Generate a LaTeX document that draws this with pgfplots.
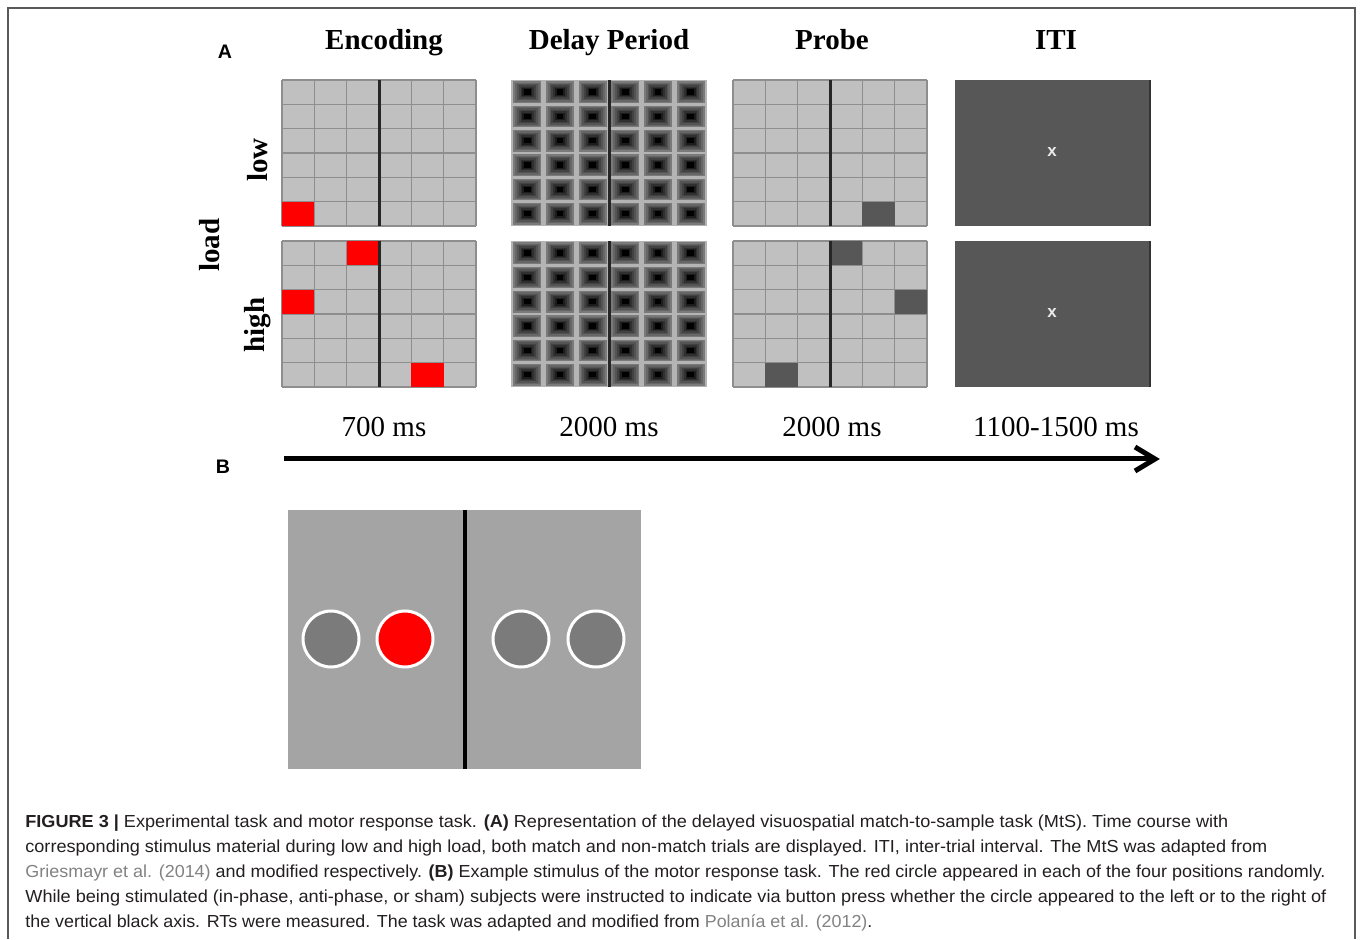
\documentclass[border=0pt]{standalone}
\usepackage{pgfplots}
\pgfplotsset{compat=1.18}
\usepackage{pgfplotstable}
\usepackage{graphicx}
\usepackage{fontspec}
\setmainfont{Liberation Serif}
\newfontfamily\sans{Liberation Sans}

\definecolor{cellgray}{HTML}{C0C0C0}
\definecolor{gridline}{HTML}{8E8E8E}
\definecolor{delaybg}{HTML}{B4B4B4}
\definecolor{itigray}{HTML}{575757}
\definecolor{panelb}{HTML}{A4A4A4}
\definecolor{circgray}{HTML}{7B7B7B}
\definecolor{captxt}{HTML}{231F20}
\definecolor{linkgray}{HTML}{828282}
\definecolor{framegray}{HTML}{5A5A5A}

% 1 px of the reference = 0.5pt
\newcommand{\rect}[5]{\addplot[fill=#1, draw=none] coordinates {(#2,#3) (#4,#3) (#4,#5) (#2,#5)} --cycle;}

% 6x6 grid panel, left x, top y (194 x 146 px)
\newcommand{\gridpanel}[2]{%
  \pgfmathsetmacro\gxr{#1+194}\pgfmathsetmacro\gyb{#2+146}%
  \addplot[fill=cellgray, draw=none] coordinates {(#1,#2) (\gxr,#2) (\gxr,\gyb) (#1,\gyb)} --cycle;
  \pgfplotsinvokeforeach{0,...,6}{%
    \pgfmathsetmacro\gx{#1+##1*194/6}%
    \pgfmathsetmacro\gy{#2+##1*146/6}%
    \addplot[gridline, line width=0.75pt] coordinates {(\gx,#2) (\gx,\gyb)};
    \addplot[gridline, line width=0.75pt] coordinates {(#1,\gy) (\gxr,\gy)};
  }
}
\newcommand{\midline}[2]{%
  \pgfmathsetmacro\gxc{#1+97}\pgfmathsetmacro\gyb{#2+146}%
  \addplot[black!85, line width=1.5pt] coordinates {(\gxc,#2) (\gxc,\gyb)};
}
% one layer of the shaded delay squares: half height (pt), grey level
\newcommand{\delaylayer}[2]{%
  \addplot[only marks, color=#2, mark=square*, mark size=#1, mark options={solid, draw=#2, fill=#2, line width=0pt, xscale=1.3}] table {\delaycells};
}

% centres of the delay-period cells
\pgfplotstableread{
x y
527.3 92.2
560.0 92.2
592.7 92.2
625.3 92.2
658.0 92.2
690.7 92.2
527.3 116.5
560.0 116.5
592.7 116.5
625.3 116.5
658.0 116.5
690.7 116.5
527.3 140.8
560.0 140.8
592.7 140.8
625.3 140.8
658.0 140.8
690.7 140.8
527.3 165.2
560.0 165.2
592.7 165.2
625.3 165.2
658.0 165.2
690.7 165.2
527.3 189.5
560.0 189.5
592.7 189.5
625.3 189.5
658.0 189.5
690.7 189.5
527.3 213.8
560.0 213.8
592.7 213.8
625.3 213.8
658.0 213.8
690.7 213.8
527.3 253.2
560.0 253.2
592.7 253.2
625.3 253.2
658.0 253.2
690.7 253.2
527.3 277.5
560.0 277.5
592.7 277.5
625.3 277.5
658.0 277.5
690.7 277.5
527.3 301.8
560.0 301.8
592.7 301.8
625.3 301.8
658.0 301.8
690.7 301.8
527.3 326.2
560.0 326.2
592.7 326.2
625.3 326.2
658.0 326.2
690.7 326.2
527.3 350.5
560.0 350.5
592.7 350.5
625.3 350.5
658.0 350.5
690.7 350.5
527.3 374.8
560.0 374.8
592.7 374.8
625.3 374.8
658.0 374.8
690.7 374.8
}\delaycells

\begin{document}
\begin{tikzpicture}
\begin{axis}[
  width=680pt, height=469.5pt, scale only axis,
  xmin=0, xmax=1360, ymin=0, ymax=939, y dir=reverse,
  hide axis, clip=false, unbounded coords=jump,
]
% page background and frame
\rect{white}{0}{0}{1360}{939}
\addplot[framegray, line width=1pt] coordinates {(8,939) (8,8) (1355,8) (1355,939)};

% ---- Encoding
\gridpanel{282}{80}
\gridpanel{282}{241}
\rect{red}{282}{201.7}{314.3}{226}
\rect{red}{346.7}{241}{379}{265.3}
\rect{red}{282}{289.7}{314.3}{314}
\rect{red}{411.3}{362.7}{443.7}{387}
\midline{282}{80}
\midline{282}{241}

% ---- Delay period
\rect{delaybg}{511}{80}{707}{226}
\rect{delaybg}{511}{241}{707}{387}
\delaylayer{5.2pt}{black!52}
\delaylayer{4.5pt}{black!60}
\delaylayer{3.8pt}{black!67}
\delaylayer{3.1pt}{black!74}
\delaylayer{2.4pt}{black!81}
\delaylayer{1.7pt}{black!89}
\delaylayer{1.1pt}{black}
\addplot[black!85, line width=1.5pt] coordinates {(609,80) (609,226)};
\addplot[black!85, line width=1.5pt] coordinates {(609,241) (609,387)};

% ---- Probe
\gridpanel{733}{80}
\gridpanel{733}{241}
\rect{itigray}{862.3}{201.7}{894.7}{226}
\rect{itigray}{830}{241}{862.3}{265.3}
\rect{itigray}{894.7}{289.7}{927}{314}
\rect{itigray}{765.3}{362.7}{797.7}{387}
\midline{733}{80}
\midline{733}{241}

% ---- ITI
\rect{itigray}{955}{80}{1150}{226}
\rect{itigray}{955}{241}{1150}{387}
\addplot[black!80, line width=1pt] coordinates {(1149.5,80) (1149.5,226)};
\addplot[black!80, line width=1pt] coordinates {(1149.5,241) (1149.5,387)};
\node[text=white!92!black, font=\sans\bfseries\fontsize{8.5}{9}\selectfont] at (1052,152) {x};
\node[text=white!92!black, font=\sans\bfseries\fontsize{8.5}{9}\selectfont] at (1052,313) {x};

% ---- headings and labels
\node[anchor=base, font=\bfseries\fontsize{14.5}{16}\selectfont] at (384,50) {Encoding};
\node[anchor=base, font=\bfseries\fontsize{14.5}{16}\selectfont] at (609,50) {Delay Period};
\node[anchor=base, font=\bfseries\fontsize{14.5}{16}\selectfont] at (832,50) {Probe};
\node[anchor=base, font=\bfseries\fontsize{14.5}{16}\selectfont] at (1056,50) {ITI};
\node[rotate=90, font=\bfseries\fontsize{14.5}{16}\selectfont] at (258,160) {low};
\node[rotate=90, font=\bfseries\fontsize{14.5}{16}\selectfont] at (258,325) {high};
\node[rotate=90, font=\bfseries\fontsize{14.5}{16}\selectfont] at (210,245) {load};
\node[anchor=base, font=\sans\bfseries\fontsize{9.8}{11}\selectfont] at (225,59) {A};
\node[anchor=base, font=\sans\bfseries\fontsize{9.8}{11}\selectfont] at (223,474) {B};

\node[anchor=base, font=\fontsize{14.5}{16}\selectfont] at (384,437) {700 ms};
\node[anchor=base, font=\fontsize{14.5}{16}\selectfont] at (609,437) {2000 ms};
\node[anchor=base, font=\fontsize{14.5}{16}\selectfont] at (832,437) {2000 ms};
\node[anchor=base, font=\fontsize{14.5}{16}\selectfont] at (1056,437) {1100-1500 ms};

% time arrow
\addplot[black, line width=2.5pt] coordinates {(284,459) (1152,459)};
\addplot[black, line width=2.5pt, line join=miter] coordinates {(1135,447) (1155,459) (1135,471)};

% ---- Panel B
\rect{panelb}{288}{510}{641}{769}
\addplot[black, line width=2pt] coordinates {(464.5,510) (464.5,769)};
\addplot[only marks, mark=*, mark size=14pt, mark options={fill=circgray, draw=white, line width=1.5pt}] coordinates {(331,639) (521,639) (596,639)};
\addplot[only marks, mark=*, mark size=14pt, mark options={fill=red, draw=white, line width=1.5pt}] coordinates {(405,639)};

% ---- caption
\begin{scope}[every node/.style={anchor=base west, inner sep=0pt, text=captxt, font=\sans\fontsize{8.7}{10}\selectfont}]
\node at (25,827) {\resizebox{601.5pt}{\height}{\textbf{FIGURE 3 |} Experimental task and motor response task. \textbf{(A)} Representation of the delayed visuospatial match-to-sample task (MtS). Time course with}};
\node at (25,852) {\resizebox{621pt}{\height}{corresponding stimulus material during low and high load, both match and non-match trials are displayed. ITI, inter-trial interval. The MtS was adapted from}};
\node at (25,877) {\resizebox{650pt}{\height}{{\color{linkgray}Griesmayr et al. (2014)} and modified respectively. \textbf{(B)} Example stimulus of the motor response task. The red circle appeared in each of the four positions randomly.}};
\node at (25,902) {\resizebox{650.5pt}{\height}{While being stimulated (in-phase, anti-phase, or sham) subjects were instructed to indicate via button press whether the circle appeared to the left or to the right of}};
\node at (25,927) {\resizebox{423.5pt}{\height}{the vertical black axis. RTs were measured. The task was adapted and modified from {\color{linkgray}Polanía et al. (2012)}.}};
\end{scope}
\end{axis}
\end{tikzpicture}
\end{document}
